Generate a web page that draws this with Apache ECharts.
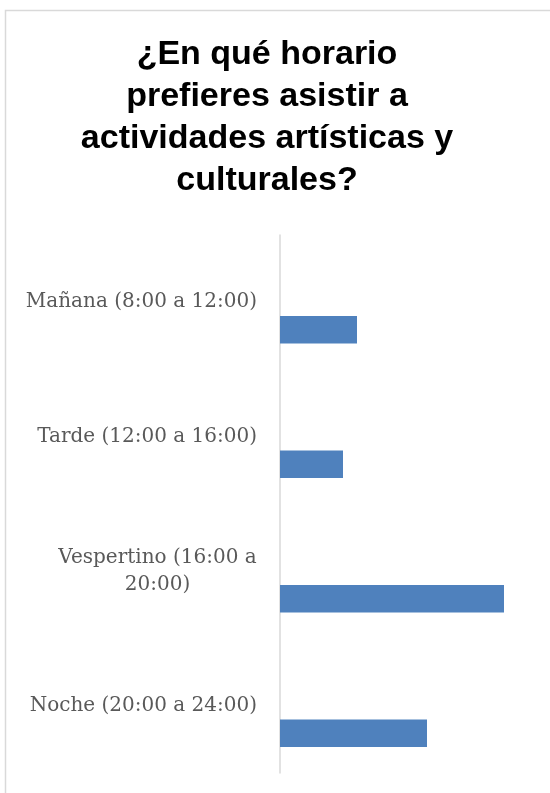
<!DOCTYPE html>
<html>
<head>
<meta charset="utf-8">
<script src="https://cdn.jsdelivr.net/npm/echarts@6/dist/echarts.min.js"></script>
<style>
  html, body { margin: 0; padding: 0; background: #fff; }
  #chart { width: 550px; height: 793px; }
</style>
</head>
<body>
<div id="chart"></div>
<script>
const titleText = '¿En qué horario\nprefieres asistir a\nactividades artísticas y\nculturales?'
const categories = ['Mañana (8:00 a 12:00)', 'Tarde (12:00 a 16:00)', 'Vespertino (16:00 a 20:00)', 'Noche (20:00 a 24:00)']
const values = [11, 9, 32, 21]
// empty first series from the original sheet, keeps the bars low in each band
const spacer = [null, null, null, null]

const labelFontSize = 20
const labelFamily = '"DejaVu Serif", serif'
const maxLabelWidth = 250

const ctx = document.createElement('canvas').getContext('2d')
ctx.font = labelFontSize + 'px ' + labelFamily
const measure = s => ctx.measureText(s).width

// wrap long category names like Excel does, centring the lines in the block
const rich = {}
const labelText = {}
categories.forEach((name, i) => {
  const words = name.split(' ')
  const lines = []
  let line = ''
  words.forEach(w => {
    const t = line ? line + ' ' + w : w
    if (line && measure(t) > maxLabelWidth) { lines.push(line); line = w } else line = t
  })
  lines.push(line)
  if (lines.length === 1) { labelText[name] = name; return }
  rich['l' + i] = {
    width: Math.ceil(Math.max(...lines.map(measure))),
    align: 'center',
    fontSize: labelFontSize,
    fontFamily: labelFamily,
    color: '#595959',
    lineHeight: 27
  }
  labelText[name] = lines.map(l => '{l' + i + '|' + l + '}').join('\n')
})

const chart = echarts.init(document.getElementById('chart'))
chart.setOption({
  animation: false,
  title: {
    text: titleText,
    left: 262,
    top: 29,
    textAlign: 'center',
    textStyle: {
      fontFamily: '"Liberation Sans", Arial, sans-serif',
      fontWeight: 'bold',
      fontSize: 34,
      lineHeight: 42,
      color: '#000'
    }
  },
  graphic: [{
    type: 'rect',
    shape: { x: 5.5, y: 10.5, width: 700, height: 900 },
    style: { fill: 'none', stroke: '#d9d9d9', lineWidth: 1.5 },
    silent: true
  }],
  grid: { left: 280, top: 235, width: 245, height: 538 },
  xAxis: { type: 'value', min: 0, max: 35, show: false },
  yAxis: {
    type: 'category',
    data: categories,
    inverse: true,
    axisLine: { lineStyle: { color: '#d9d9d9', width: 1.5 } },
    axisTick: { show: false },
    splitLine: { show: false },
    axisLabel: {
      margin: 23,
      fontSize: labelFontSize,
      fontFamily: labelFamily,
      color: '#595959',
      lineHeight: 27,
      formatter: v => labelText[v],
      rich: rich
    }
  },
  series: [
    { type: 'bar', data: spacer, barWidth: 27.5, barGap: '100%' },
    { type: 'bar', data: values, barWidth: 27.5, barGap: '100%', itemStyle: { color: '#4f81bd' } }
  ]
})
</script>
</body>
</html>
